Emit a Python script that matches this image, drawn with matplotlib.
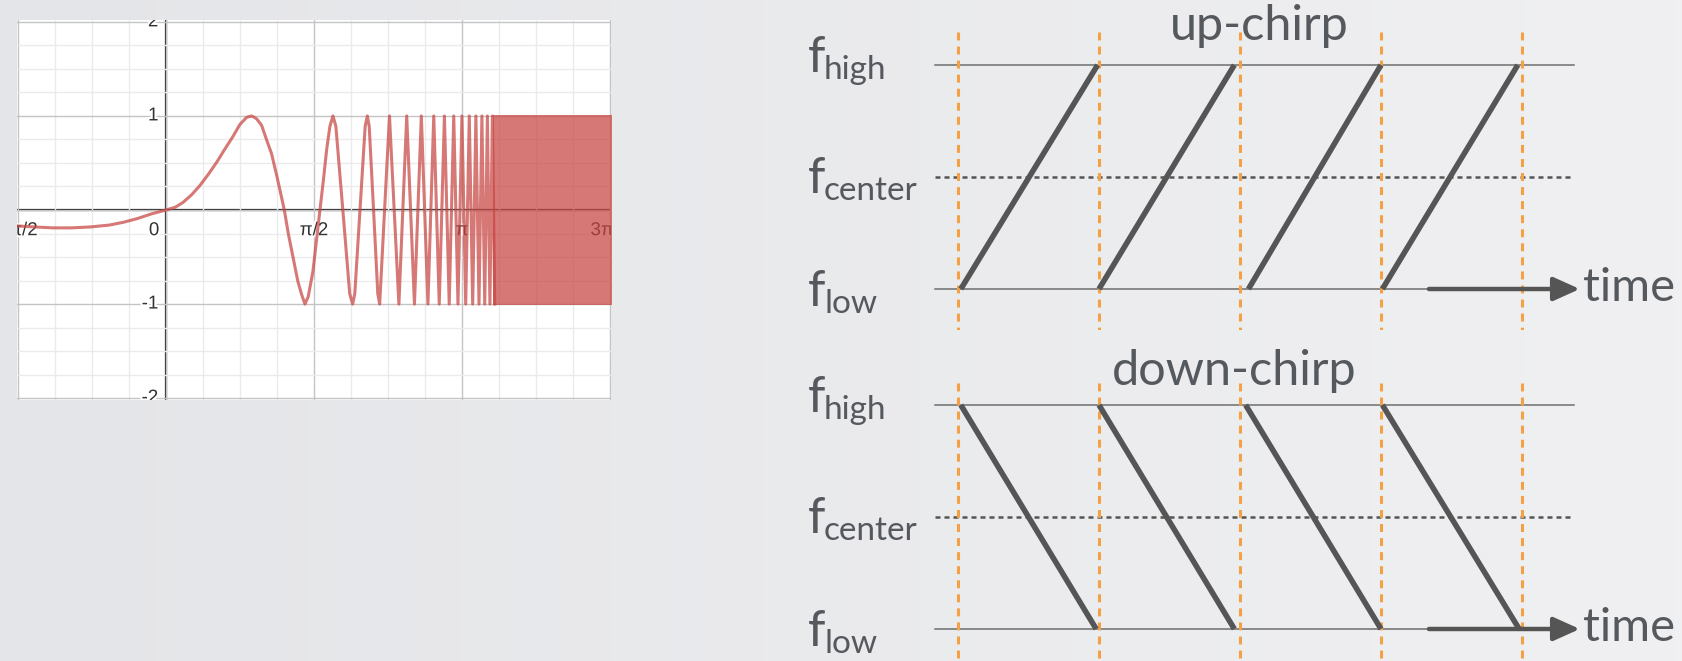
import numpy as np
import matplotlib.pyplot as plt
import matplotlib.patheffects as pe
from matplotlib.patches import FancyArrowPatch

W, H = 1682, 661
PI = np.pi

# ============================================================
# Left panel: chirp waveform
# ============================================================

# slow part of the curve (x in rad)
curve_x = [-1.571, -1.40, -1.20, -1.00, -0.80, -0.60, -0.45, -0.30, -0.15, 0.00,
           0.10, 0.18, 0.27, 0.36, 0.45, 0.54, 0.62, 0.71, 0.785, 0.856,
           0.91, 0.962, 1.015, 1.07, 1.12, 1.17, 1.21, 1.256, 1.30, 1.35,
           1.40, 1.44, 1.475, 1.51, 1.56, 1.60, 1.634, 1.67, 1.705, 1.74,
           1.772, 1.803, 1.877, 1.950, 1.981, 2.004, 2.059, 2.114, 2.137,
           2.157, 2.203, 2.248, 2.268]
curve_y = [-0.17, -0.18, -0.19, -0.19, -0.18, -0.16, -0.13, -0.09, -0.04, 0.00,
           0.03, 0.08, 0.16, 0.26, 0.38, 0.51, 0.64, 0.78, 0.91, 0.985,
           1.00, 0.97, 0.90, 0.74, 0.60, 0.39, 0.21, 0.00, -0.26, -0.51,
           -0.76, -0.90, -1.00, -0.92, -0.65, -0.30, 0.00, 0.31, 0.64, 0.89,
           1.00, 0.89, 0.00, -0.89, -1.00, -0.89, 0.00, 0.89, 1.00,
           0.89, 0.00, -0.89, -1.00]

# fast part: successive peaks / troughs
extrema_x = [2.372, 2.472, 2.555, 2.637, 2.710, 2.780, 2.842, 2.900, 2.955, 3.006,
             3.054, 3.099, 3.141, 3.181, 3.219, 3.255, 3.289, 3.322, 3.353, 3.383,
             3.411, 3.438, 3.464, 3.489]
extrema_y = [1, -1, 1, -1, 1, -1, 1, -1, 1, -1,
             1, -1, 1, -1, 1, -1, 1, -1, 1, -1,
             1, -1, 1, -1]

# beyond this the oscillation is a solid band
band_x = [3.47, 4.73]
band_lo, band_hi = -1.015, 1.015

x_lbl_pos = [-PI / 2, PI / 2, PI, 3 * PI / 2]
x_lbl_txt = ["\u2212\u03c0/2", "\u03c0/2", "\u03c0", "3\u03c0/2"]
y_lbl_pos = [2, 1, -1, -2]
y_lbl_txt = ["2", "1", "-1", "-2"]

# ============================================================
# Right panels: up-chirp / down-chirp
# ============================================================

period_edges = [0, 1, 2, 3, 4]
f_low, f_center, f_high = 0.0, 0.5, 1.0
up_start = [0.02, 1.00, 2.06, 3.01]
up_end = [0.99, 1.96, 3.00, 3.97]
down_start = [0.02, 1.00, 2.04, 3.01]
down_end = [0.98, 1.96, 3.00, 3.98]
label_names = ["high", "center", "low"]
label_base = [0.969, 0.429, -0.076]

# ============================================================
# Figure
# ============================================================

fig = plt.figure(figsize=(W / 100, H / 100), dpi=100)


def px_axes(x0, y0, x1, y1, **kw):
    return fig.add_axes([x0 / W, 1 - y1 / H, (x1 - x0) / W, (y1 - y0) / H], **kw)


# background gradient
bg = px_axes(0, 0, W, H, zorder=-10)
c0 = np.array([228, 229, 232]) / 255
c1 = np.array([240, 240, 242]) / 255
s = np.linspace(0, 1, 256)[None, :, None]
bg.imshow(c0 + (c1 - c0) * s, aspect="auto", extent=[0, 1, 0, 1])
bg.axis("off")

# ── left: waveform ────────────────────────────────────────
ax = px_axes(17, 20, 611, 400)
ax.set_facecolor("white")
ax.set_xlim(-1.581, 4.723)
ax.set_ylim(-2.02, 2.02)
ax.set_xticks([-PI / 2, 0, PI / 2, PI, 3 * PI / 2])
ax.set_xticks(np.arange(-4, 13) * PI / 8, minor=True)
ax.set_yticks([-2, -1, 0, 1, 2])
ax.set_yticks(np.arange(-8, 9) * 0.25, minor=True)
ax.grid(which="minor", color="#ebebeb", lw=1.0, zorder=0)
ax.grid(which="major", color="#c4c4c4", lw=1.0, zorder=0)
ax.tick_params(which="both", length=0, labelbottom=False, labelleft=False)
for sp in ax.spines.values():
    sp.set_visible(False)
ax.axhline(0, color="#222222", lw=1.6, zorder=1)
ax.axvline(0, color="#222222", lw=1.6, zorder=1)

halo = [pe.withStroke(linewidth=3, foreground="white")]
lbl_kw = dict(fontsize=13.5, family="Liberation Sans", color="#333333",
              clip_on=True, zorder=2, path_effects=halo)
for xp, t in zip(x_lbl_pos, x_lbl_txt):
    ax.text(xp, -0.22, t, ha="center", va="center", **lbl_kw)
ax.text(-0.07, -0.22, "0", ha="right", va="center", **lbl_kw)
for yp, t in zip(y_lbl_pos, y_lbl_txt):
    ax.text(-0.08, yp, t, ha="right", va="center", **lbl_kw)

red = "#c74440"
ax.plot(curve_x + extrema_x, curve_y + extrema_y, color=red, alpha=0.72,
        lw=2.2, solid_joinstyle="round", zorder=3)
ax.fill_between(band_x, band_lo, band_hi, color=red, alpha=0.72, lw=0, zorder=3)

# ── right: chirp diagrams ─────────────────────────────────
txt_col = "#55595e"
font = dict(family="Lato", weight="normal", color=txt_col)


def chirp_panel(ax, starts, ends, up, title, title_t, title_y, dash_top):
    ax.set_facecolor("none")
    ax.axis("off")
    for lvl in (f_low, f_high):
        ax.plot([-0.163, 4.37], [lvl, lvl], color="#6e6e6e", lw=1.1, zorder=1)
    ax.plot([-0.163, 4.37], [f_center, f_center], color="#555555", lw=1.8,
            ls=(0, (2.0, 1.6)), zorder=1)
    for te in period_edges:
        ax.plot([te, te], [dash_top, -0.3], color="#f4a146", lw=2.2,
                ls=(0, (2.6, 2.0)), zorder=2)
    for a, b in zip(starts, ends):
        if up:
            ax.plot([a, b], [f_low, f_high], color="#555555", lw=4.0,
                    solid_capstyle="butt", zorder=3)
        else:
            ax.plot([a, b], [f_high, f_low], color="#555555", lw=4.0,
                    solid_capstyle="butt", zorder=3)
    ax.add_patch(FancyArrowPatch((3.34, f_low), (4.41, f_low),
                                 arrowstyle="-|>,head_length=1.0,head_width=0.45",
                                 mutation_scale=16, lw=3.2, color="#555555",
                                 shrinkA=0, shrinkB=0, zorder=3))
    ax.text(4.43, -0.055, "time", fontsize=34, ha="left", va="baseline", **font)
    ax.text(title_t, title_y, title, fontsize=35, ha="center", va="baseline",
            zorder=1, **font)
    for name, yb in zip(label_names, label_base):
        t = ax.text(-1.064, yb, "f", fontsize=36, ha="left", va="baseline", **font)
        ax.annotate(name, xy=(1, 0), xycoords=t, xytext=(-1, -3),
                    textcoords="offset points", fontsize=24, ha="left",
                    va="bottom", **font)


ax_up = px_axes(780, 0, W, 330)
ax_up.set_xlim(-1.2624, 5.1348)
ax_up.set_ylim(-0.183, 1.2902)
chirp_panel(ax_up, up_start, up_end, True, "up-chirp", 2.14, 1.112, 1.147)

ax_dn = px_axes(780, 330, W, H)
ax_dn.set_xlim(-1.2624, 5.1348)
ax_dn.set_ylim(-0.1429, 1.3348)
chirp_panel(ax_dn, down_start, down_end, False, "down-chirp", 1.96, 1.089, 1.10)

fig.savefig("out.png", dpi=100)
